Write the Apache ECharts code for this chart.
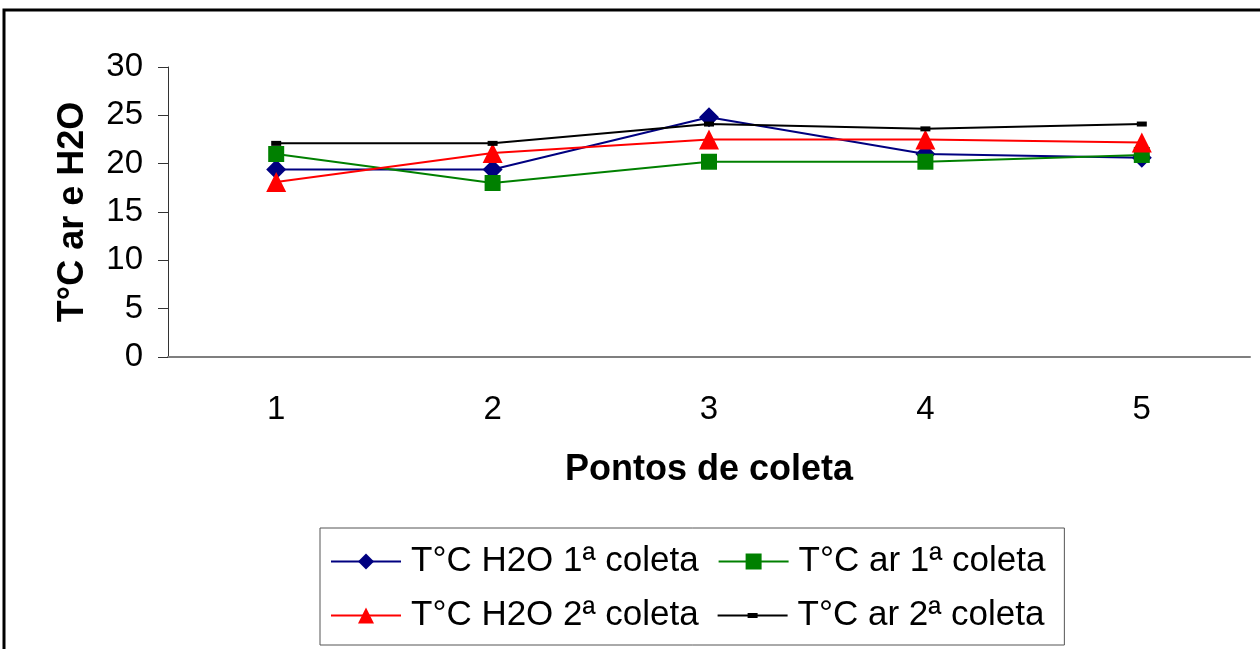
<!DOCTYPE html>
<html>
<head>
<meta charset="utf-8">
<script src="https://cdn.jsdelivr.net/npm/echarts@6/dist/echarts.min.js"></script>
<style>
  html, body { margin: 0; padding: 0; background: #fff; }
  #chart { width: 1260px; height: 649px; }
</style>
</head>
<body>
<div id="chart"></div>
<script>
const pontos = ["1", "2", "3", "4", "5"];
const h2o1 = [19.4, 19.4, 24.8, 21.0, 20.6];
const ar1 = [21.0, 18.0, 20.2, 20.2, 20.9];
const h2o2 = [18.1, 21.1, 22.5, 22.5, 22.2];
const ar2 = [22.1, 22.1, 24.1, 23.6, 24.1];
const yTicks = { min: 0, max: 30, interval: 5 };
const nomes = ["T°C H2O 1ª coleta", "T°C ar 1ª coleta", "T°C H2O 2ª coleta", "T°C ar 2ª coleta"];

const FONT = "Liberation Sans, Arial, sans-serif";

// legend icon for the black series: full line with a small dash marker,
// tiny specks at the corners keep the bounding box at 70x20
const dashIcon = "path://M0,0L0.01,0L0,0.01Z M70,20L69.99,20L70,19.99Z " +
  "M0,9L70,9L70,11L0,11Z M30,7.5L40,7.5L40,12.5L30,12.5Z";

const chart = echarts.init(document.getElementById("chart"), null, { renderer: "canvas" });

chart.setOption({
  animation: false,
  backgroundColor: "#fff",
  textStyle: { fontFamily: FONT },
  graphic: [
    {
      type: "rect",
      shape: { x: 4, y: 10, width: 1270, height: 660 },
      style: { fill: null, stroke: "#000", lineWidth: 3 },
      silent: true
    }
  ],
  grid: { left: 168, right: 10, top: 67, bottom: 292 },
  xAxis: {
    type: "category",
    data: pontos,
    boundaryGap: true,
    name: "Pontos de coleta",
    nameLocation: "middle",
    nameGap: 95,
    nameTextStyle: { fontSize: 36, fontWeight: "bold", color: "#000", fontFamily: FONT },
    axisLine: { lineStyle: { color: "#7f7f7f", width: 2 } },
    axisTick: { length: 10, lineStyle: { color: "#333" } },
    axisLabel: { fontSize: 33, color: "#000", margin: 36, fontFamily: FONT },
    splitLine: { show: false }
  },
  yAxis: {
    type: "value",
    min: yTicks.min,
    max: yTicks.max,
    interval: yTicks.interval,
    name: "T°C ar e H2O",
    nameLocation: "middle",
    nameGap: 77,
    nameRotate: 90,
    nameTextStyle: { fontSize: 36, fontWeight: "bold", color: "#000", fontFamily: FONT },
    axisLine: { show: true, lineStyle: { color: "#333" } },
    axisTick: { show: true, length: 10, lineStyle: { color: "#333" } },
    axisLabel: { fontSize: 33, color: "#000", margin: 25, fontFamily: FONT },
    splitLine: { show: false }
  },
  legend: {
    left: 320,
    top: 528,
    width: 770,
    padding: [16, 19, 12, 10],
    itemGap: 19,
    itemWidth: 70,
    itemHeight: 20,
    borderColor: "#555",
    borderWidth: 1,
    textStyle: { fontSize: 35, color: "#000", fontFamily: FONT, padding: [0, 0, 0, 5] },
    data: [
      nomes[0],
      nomes[1],
      nomes[2],
      { name: nomes[3], icon: dashIcon }
    ]
  },
  series: [
    {
      name: nomes[0],
      type: "line",
      data: h2o1,
      color: "#000080",
      symbol: "diamond",
      symbolSize: 20,
      lineStyle: { width: 2, color: "#000080" }
    },
    {
      name: nomes[1],
      type: "line",
      data: ar1,
      color: "#008000",
      symbol: "rect",
      symbolSize: 16,
      lineStyle: { width: 2, color: "#008000" }
    },
    {
      name: nomes[2],
      type: "line",
      data: h2o2,
      color: "#ff0000",
      symbol: "triangle",
      symbolSize: 20,
      lineStyle: { width: 2, color: "#ff0000" }
    },
    {
      name: nomes[3],
      type: "line",
      data: ar2,
      color: "#000",
      symbol: "rect",
      symbolSize: [10, 5],
      lineStyle: { width: 2, color: "#000" }
    }
  ]
});
</script>
</body>
</html>
